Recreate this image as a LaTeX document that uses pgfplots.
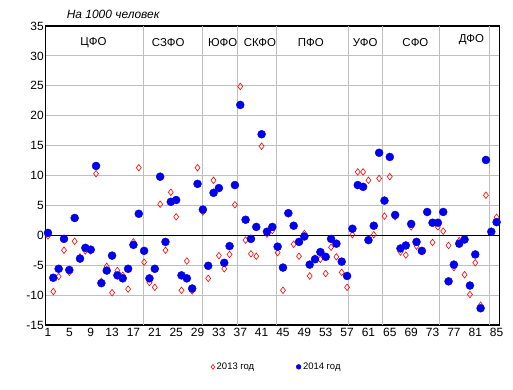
\documentclass[border=0pt]{standalone}
\usepackage{pgfplots}
\pgfplotsset{compat=1.18}
\usepackage{fontspec}
\setmainfont{Liberation Sans}
\begin{document}
\begin{tikzpicture}
\begin{axis}[
 scale only axis, width=454bp, height=299bp,
 at={(0,0)}, anchor=south west,
 xmin=0.5, xmax=85.5, ymin=-15, ymax=35,
 xtick={1,5,...,85}, ytick={-15,-10,...,35},
 ymajorgrids,
 major grid style={draw=black!25, line width=0.8bp},
 extra x ticks={18.8,29.9,36.5,43.8,57.2,63.7,74.2,83.7},
 extra x tick labels={},
 extra x tick style={grid=major, major tick length=0pt},
 extra y ticks={0}, extra y tick labels={},
 extra y tick style={grid=major, major grid style={draw=black, line width=1bp}, major tick length=0pt},
 major tick length=0pt,
 axis line style={line width=1.2bp},
 tick label style={font=\fontsize{12}{14}\selectfont},
 yticklabel style={xshift=2bp},
 /pgf/number format/assume math mode=true,
 clip=false,
 legend columns=2,
 legend image post style={mark size=2.4bp},
 legend style={draw=none, at={(0.51,-0.14)}, anchor=center, font=\fontsize{9.5}{11}\selectfont,
   /tikz/every even column/.append style={column sep=40bp}},
]
\addplot[only marks, mark=diamond, mark size=3.3bp, color=red, mark options={line width=0.6bp}] coordinates {
(1,-0.1) (2,-9.4) (3,-6.9) (4,-2.5) (5,-6.2) (6,-1.0) (7,-3.6) (8,-2.6) (9,-2.6) (10,10.3)
(11,-7.7) (12,-5.2) (13,-9.6) (14,-5.9) (15,-6.7) (16,-9.0) (17,-1.1) (18,11.3) (19,-4.5) (20,-7.9)
(21,-8.7) (22,5.2) (23,-2.5) (24,7.2) (25,3.1) (26,-9.2) (27,-4.3) (28,-9.3) (29,11.3) (30,3.9)
(31,-7.2) (32,9.2) (33,-3.4) (34,-5.6) (35,-3.2) (36,5.1) (37,24.9) (38,-0.8) (39,-3.1) (40,-3.5)
(41,14.9) (42,0.2) (43,0.8) (44,-2.9) (45,-9.2) (46,3.6) (47,-1.5) (48,-3.5) (49,0.3) (50,-6.8)
(51,-3.8) (52,-4.0) (53,-6.4) (54,-2.0) (55,-3.6) (56,-6.2) (57,-8.7) (58,0.1) (59,10.6) (60,10.6)
(61,9.2) (62,0.1) (63,9.5) (64,3.2) (65,9.8) (66,3.1) (67,-2.8) (68,-3.3) (69,1.4) (70,-1.8)
(71,-2.7) (72,3.8) (73,-1.2) (74,1.4) (75,0.7) (76,-1.7) (77,-5.4) (78,-0.9) (79,-6.6) (80,-9.9)
(81,-4.6) (82,-11.7) (83,6.7) (84,0.6) (85,3.0)
};
\addlegendentry{2013 год}
\addplot[only marks, mark=*, mark size=4bp, color=blue!92!black] coordinates {
(1,0.4) (2,-7.1) (3,-5.6) (4,-0.6) (5,-5.8) (6,2.9) (7,-3.9) (8,-2.1) (9,-2.4) (10,11.6)
(11,-8.0) (12,-5.9) (13,-3.4) (14,-6.7) (15,-7.2) (16,-5.6) (17,-1.6) (18,3.6) (19,-2.6) (20,-7.2)
(21,-5.6) (22,9.8) (23,-1.1) (24,5.6) (25,5.9) (26,-6.7) (27,-7.2) (28,-8.9) (29,8.6) (30,4.3)
(31,-5.1) (32,7.1) (33,7.9) (34,-4.6) (35,-1.8) (36,8.4) (37,21.8) (38,2.6) (39,-0.6) (40,1.4)
(41,16.9) (42,0.6) (43,1.4) (44,-1.9) (45,-5.4) (46,3.7) (47,1.6) (48,-1.1) (49,-0.2) (50,-4.9)
(51,-4.0) (52,-2.8) (53,-3.6) (54,-0.6) (55,-1.4) (56,-4.4) (57,-6.8) (58,1.1) (59,8.4) (60,8.1)
(61,-0.8) (62,1.6) (63,13.8) (64,5.8) (65,13.1) (66,3.4) (67,-2.2) (68,-1.7) (69,1.9) (70,-1.1)
(71,-2.6) (72,3.9) (73,2.1) (74,2.1) (75,3.9) (76,-7.7) (77,-4.9) (78,-1.4) (79,-0.7) (80,-8.4)
(81,-3.2) (82,-12.2) (83,12.6) (84,0.6) (85,2.2)
};
\addlegendentry{2014 год}
\node[font=\itshape\fontsize{12}{14}\selectfont] at (axis cs:13.2,36.9) {На 1000 человек};
\begin{scope}[every node/.style={font=\fontsize{11.5}{13}\selectfont}]
\node at (axis cs:9.5,32.2) {ЦФО};
\node at (axis cs:23.5,32.2) {СЗФО};
\node at (axis cs:33.7,32.2) {ЮФО};
\node at (axis cs:40.7,32.2) {СКФО};
\node at (axis cs:50.2,32.2) {ПФО};
\node at (axis cs:60.4,32.2) {УФО};
\node at (axis cs:69.8,32.2) {СФО};
\node at (axis cs:80.3,32.8) {ДФО};
\end{scope}
\end{axis}
\pgfresetboundingbox
\path (-45.3bp,-65bp) rectangle (467.7bp,325bp);
\end{tikzpicture}
\end{document}
